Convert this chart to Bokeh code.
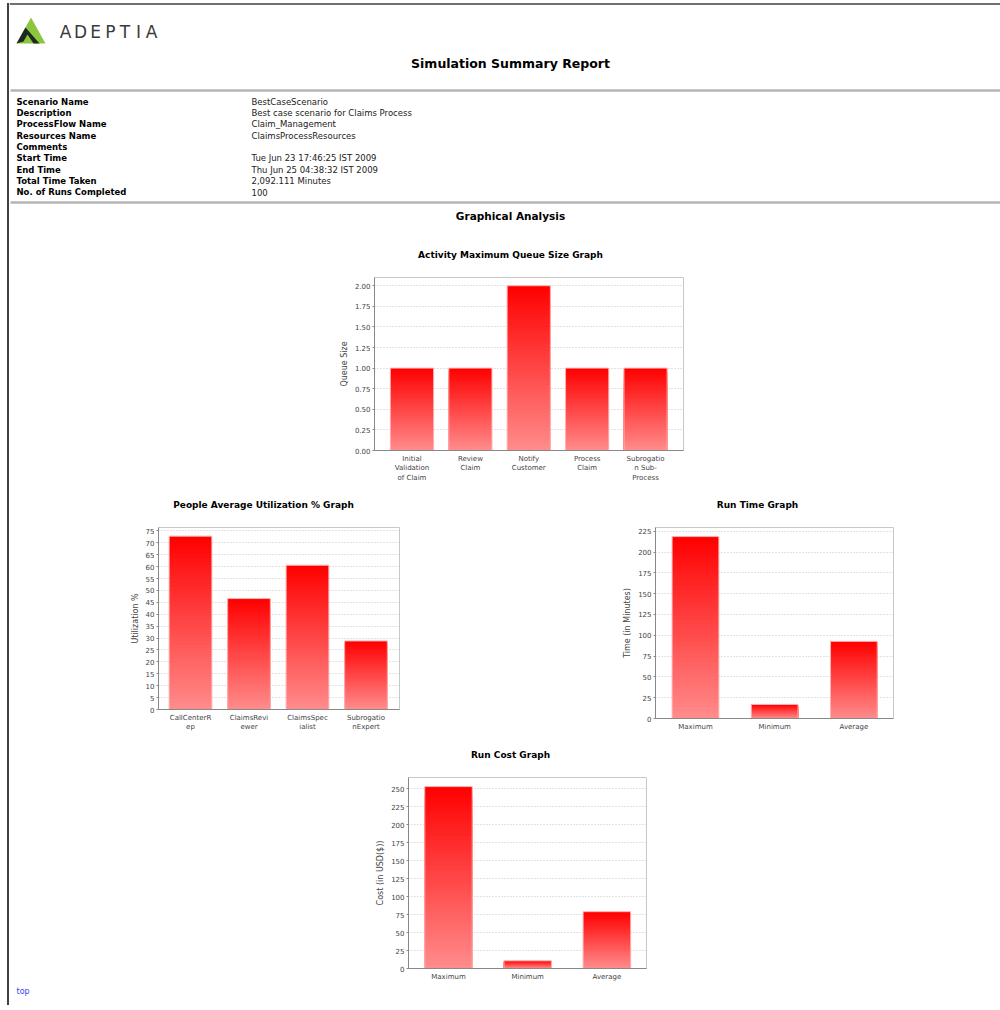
import numpy as np
from bokeh.plotting import figure
from bokeh.layouts import row, column
from bokeh.models import Range1d, FixedTicker, NumeralTickFormatter, Spacer
from bokeh.core.properties import value
from bokeh.embed import file_html
from bokeh.resources import INLINE

# ---------------- data ----------------
info_labels = ["Scenario Name", "Description", "ProcessFlow Name", "Resources Name",
               "Comments", "Start Time", "End Time", "Total Time Taken",
               "No. of Runs Completed"]
info_values = ["BestCaseScenario", "Best case scenario for Claims Process",
               "Claim_Management", "ClaimsProcessResources", "",
               "Tue Jun 23 17:46:25 IST 2009", "Thu Jun 25 04:38:32 IST 2009",
               "2,092.111 Minutes", "100"]

queue_cats = ["Initial\nValidation\nof Claim", "Review\nClaim", "Notify\nCustomer",
              "Process\nClaim", "Subrogatio\nn Sub-\nProcess"]
queue_vals = [1, 1, 2, 1, 1]

util_cats = ["CallCenterR\nep", "ClaimsRevi\newer", "ClaimsSpec\nialist", "Subrogatio\nnExpert"]
util_vals = [72.8, 46.6, 60.6, 28.8]

time_cats = ["Maximum", "Minimum", "Average"]
time_vals = [218.6, 16.9, 92.7]

cost_cats = ["Maximum", "Minimum", "Average"]
cost_vals = [253.0, 10.7, 79.0]

FONT = "DejaVu Sans"
BORDER = "#404040"
CW = 991          # content width (page x 9 .. 1000)
TOTAL_H = 1005


def canvas(w, h):
    p = figure(width=w, height=h, x_range=Range1d(0, w), y_range=Range1d(h, 0),
               x_axis_type=None, y_axis_type=None, output_backend="svg",
               toolbar_location=None, min_border=0)
    p.grid.visible = False
    p.outline_line_color = None
    p.background_fill_color = "white"
    p.border_fill_color = "white"
    return p


def txt(p, x, y, s, size, bold=False, align="left", color="#000000", font=FONT):
    p.text(x=[x], y=[y], text=[s], text_font=value(font), text_font_size=size,
           text_font_style="bold" if bold else "normal", text_align=align,
           text_baseline="middle", text_color=color)


def bar_chart(cats, vals, width, height, mbl, mbr, mbt, mbb, lo, hi, bar_w,
              step, ylabel, fmt):
    n = len(vals)
    v = np.array(vals, dtype=float)
    ymax = v.max() * 1.05
    p = figure(width=width, height=height, x_range=Range1d(-lo, n - 1 + hi),
               y_range=Range1d(0, ymax), output_backend="svg", toolbar_location=None,
               min_border_left=mbl, min_border_right=mbr, min_border_top=mbt,
               min_border_bottom=mbb)
    p.background_fill_color = "white"
    p.border_fill_color = "white"
    p.outline_line_color = "#c8c8c8"

    p.xgrid.visible = False
    yt = list(np.arange(0, ymax + 1e-9, step))
    p.ygrid.ticker = FixedTicker(ticks=yt)
    p.ygrid.grid_line_color = "#c4c4c4"
    p.ygrid.grid_line_dash = "1 2"

    xs = np.arange(n)
    N = 48
    # vertical gradient: red at the top of each bar, pale at its bottom
    for k in range(N - 1, -1, -1):
        frac = (k + 0.5) / N
        g = int(round(140 * (1 - frac)))
        col = "#%02x%02x%02x" % (255, g, g)
        p.quad(left=xs - bar_w / 2, right=xs + bar_w / 2, bottom=0 * v,
               top=v * (k + 1) / N, fill_color=col, line_color=None)
    p.quad(left=xs - bar_w / 2, right=xs + bar_w / 2, bottom=0 * v, top=v,
           fill_color=None, line_color="#ffb4b4", line_width=1)

    yax = p.yaxis[0]
    yax.ticker = FixedTicker(ticks=yt)
    yax.formatter = NumeralTickFormatter(format=fmt)
    yax.axis_label = ylabel
    yax.axis_label_text_font = FONT
    yax.axis_label_text_font_size = "8px"
    yax.axis_label_text_font_style = "normal"
    yax.axis_label_text_color = "#444444"
    yax.axis_label_standoff = 3
    yax.major_label_text_font = FONT
    yax.major_label_text_font_size = "7px"
    yax.major_label_text_color = "#444444"
    yax.major_label_standoff = 2
    yax.major_tick_out = 2
    yax.major_tick_in = 0
    yax.minor_tick_out = 0
    yax.minor_tick_in = 0
    yax.axis_line_color = "#888888"
    yax.major_tick_line_color = "#888888"

    xax = p.xaxis[0]
    xax.ticker = FixedTicker(ticks=list(range(n)))
    xax.major_label_overrides = {i: c for i, c in enumerate(cats)}
    xax.major_label_text_font = FONT
    xax.major_label_text_font_size = "7px"
    xax.major_label_text_color = "#444444"
    xax.major_label_standoff = 4
    xax.major_tick_out = 0
    xax.major_tick_in = 0
    xax.minor_tick_out = 0
    xax.minor_tick_in = 0
    xax.axis_line_color = "#888888"
    return p


# ---------------- header (page y 0..265) ----------------
hdr = canvas(CW, 265)
hdr.segment(x0=[0], y0=[3.5], x1=[CW], y1=[3.5], line_width=1.5, line_color=BORDER)
# logo
hdr.patch(x=[7, 21.5, 36], y=[43, 17, 43], fill_color="#8cc63e", line_color=None)
hdr.patch(x=[7, 16, 30, 24, 18, 14], y=[43, 27, 43, 43, 34, 41], fill_color="#1e2a1e",
          line_color=None)
for i, ch in enumerate("ADEPTIA"):
    hx = [56, 71, 86, 101, 115.5, 129, 142][i]
    txt(hdr, hx, 31, ch, "17px", align="center", color="#3a3a3a")
txt(hdr, 501, 63, "Simulation Summary Report", "12.5px", bold=True, align="center")
hdr.segment(x0=[1], y0=[90], x1=[CW], y1=[90], line_width=2.5, line_color="#b4b4b4")
for i, (lab, val) in enumerate(zip(info_labels, info_values)):
    yy = 101 + i * 11.35
    txt(hdr, 7, yy, lab, "8.5px", bold=True)
    txt(hdr, 242, yy, val, "8.5px", color="#222222")
hdr.segment(x0=[1], y0=[202], x1=[CW], y1=[202], line_width=2.5, line_color="#b4b4b4")
txt(hdr, 501, 215, "Graphical Analysis", "10.5px", bold=True, align="center")
txt(hdr, 501, 254, "Activity Maximum Queue Size Graph", "9px", bold=True, align="center")

# ---------------- row B (page y 265..490) ----------------
c1 = bar_chart(queue_cats, queue_vals, 370, 225, 44, 17, 12, 40, 0.642, 0.65, 0.74,
               0.25, "Queue Size", "0.00")
rowB = row(Spacer(width=321, height=225), column(c1), spacing=0)

# ---------------- titles row 2 (page y 490..515) ----------------
t2 = canvas(CW, 25)
txt(t2, 254, 14, "People Average Utilization % Graph", "9px", bold=True, align="center")
txt(t2, 748, 14, "Run Time Graph", "9px", bold=True, align="center")

# ---------------- row C (page y 515..740) ----------------
c2 = bar_chart(util_cats, util_vals, 300, 225, 48, 11, 12, 31, 0.547, 0.573, 0.73,
               5, "Utilization %", "0")
c3 = bar_chart(time_cats, time_vals, 300, 225, 45, 17, 12, 22, 0.505, 0.5, 0.59,
               25, "Time (in Minutes)", "0")
rowC = row(Spacer(width=101, height=225), column(c2), Spacer(width=200, height=225),
           column(c3), spacing=0)

# ---------------- titles row 3 (page y 740..765) ----------------
t3 = canvas(CW, 25)
txt(t3, 501, 14, "Run Cost Graph", "9px", bold=True, align="center")

# ---------------- row D (page y 765..985) ----------------
c4 = bar_chart(cost_cats, cost_vals, 300, 220, 48, 14, 12, 17, 0.505, 0.5, 0.6,
               25, "Cost (in USD($))", "0")
rowD = row(Spacer(width=351, height=220), column(c4), spacing=0)

# ---------------- footer ----------------
ft = canvas(CW, 20)
txt(ft, 7, 6, "top", "8px", color="#3344ee")

content = column(hdr, rowB, t2, rowC, t3, rowD, ft, spacing=0)
border = Spacer(width=2, height=TOTAL_H - 3, styles={"background-color": BORDER,
                                                     "margin-top": "3px"})
page = row(Spacer(width=7, height=TOTAL_H), border, content, spacing=0)

open("out.html", "w").write(file_html(page, INLINE))
